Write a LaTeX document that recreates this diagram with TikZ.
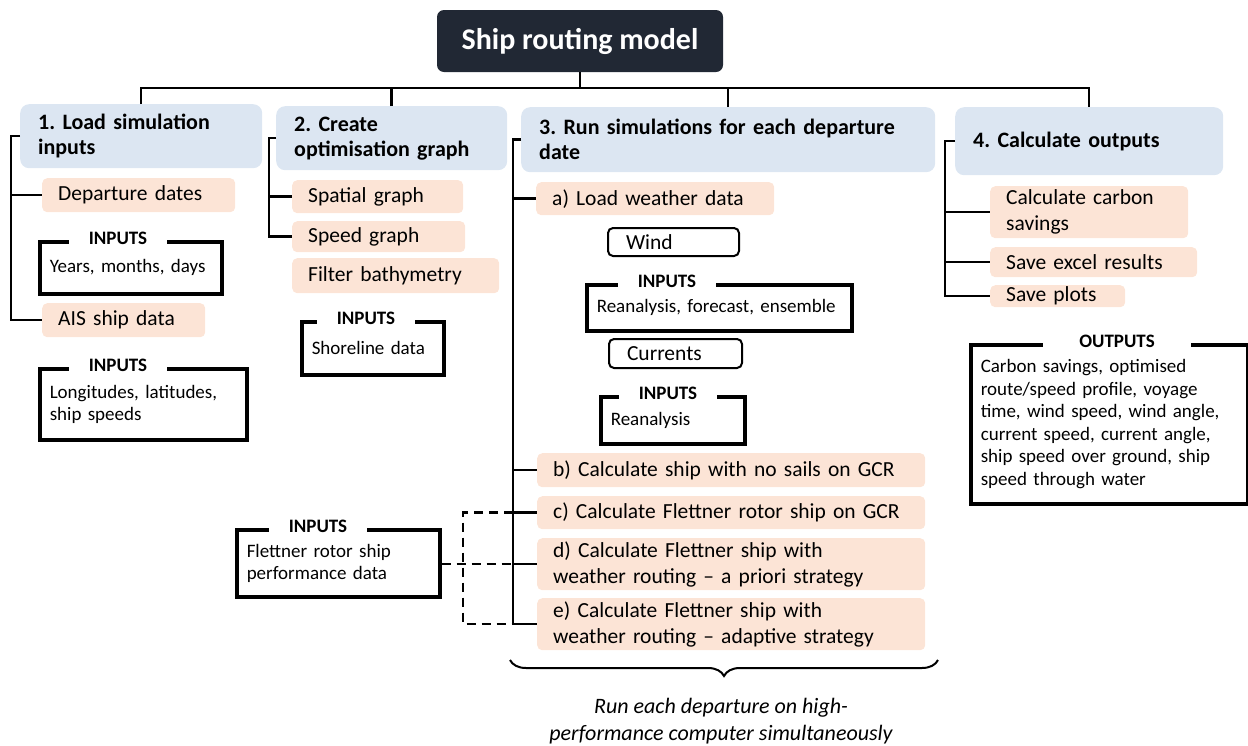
\documentclass[tikz,border=0pt]{standalone}
\usepackage{fontspec}
\setmainfont{Carlito}
\usetikzlibrary{decorations.pathreplacing}
\frenchspacing

\definecolor{headblue}{RGB}{220,230,242}
\definecolor{itemorange}{RGB}{252,228,214}
\definecolor{titlenavy}{RGB}{33,40,52}

\tikzset{
  conn/.style={line width=2.5pt},
  titlebox/.style={fill=titlenavy, text=white, rounded corners=7pt,
    font=\bfseries\fontsize{30}{34}\selectfont, minimum width=286pt, minimum height=62pt},
  head/.style={fill=headblue, rounded corners=9pt, anchor=north west, align=left,
    inner xsep=18pt, inner ysep=0pt, font=\bfseries\fontsize{22}{25}\selectfont},
  item/.style={fill=itemorange, rounded corners=5pt, anchor=north west, align=left,
    inner xsep=16pt, inner ysep=0pt, font=\fontsize{21.5}{26}\selectfont},
  layer/.style={draw, line width=2pt, rounded corners=5pt, anchor=north west, align=left,
    inner xsep=18pt, inner ysep=0pt, font=\fontsize{21.5}{26}\selectfont},
  inbox/.style={draw, line width=3.5pt, anchor=north west, align=left,
    inner xsep=10pt, inner ysep=0pt, font=\fontsize{19}{22.5}\selectfont},
  inlabel/.style={fill=white, inner xsep=20pt, inner ysep=1pt,
    font=\bfseries\fontsize{19}{22}\selectfont},
}

\begin{document}
\begin{tikzpicture}[x=1pt, y=-1pt]
\useasboundingbox (0,0) rectangle (1248,745);

% title and the four steps
\node[titlebox] (title) at (580,41) {Ship routing model};
\node[head, text width=206, minimum height=64] (load) at (20,104) {1. Load simulation\\inputs};
\node[head, text width=195, minimum height=64] (graph) at (276,106) {2. Create\\optimisation graph};
\node[head, text width=378, minimum height=65] (runsim) at (521,107) {3. Run simulations for each departure\\date};
\node[head, text width=232, minimum height=68] (outputs) at (955,107) {4. Calculate outputs};

% step 1
\node[item, text width=161, minimum height=34] (dep) at (42,178) {Departure dates};
\node[inbox, text width=162, minimum height=52] (in1) at (38,240) {Years, months, days};
\node[inlabel] (lab1) at (118,238) {INPUTS};
\node[item, text width=131, minimum height=34] (ais) at (42,303) {AIS ship data};
\node[inbox, text width=187, minimum height=71] (in2) at (38,367) {Longitudes, latitudes,\\ship speeds};
\node[inlabel] (lab2) at (118,365) {INPUTS};

% step 2
\node[item, text width=139, minimum height=33] (spatial) at (292,180) {Spatial graph};
\node[item, text width=141, minimum height=31] (speedg) at (292,221) {Speed graph};
\node[item, text width=175, minimum height=35] (filter) at (292,258) {Filter bathymetry};
\node[inbox, text width=122, minimum height=53] (in3) at (300,320) {Shoreline data};
\node[inlabel] (lab3) at (366,318) {INPUTS};

% step 3
\node[item, text width=206, minimum height=33] (runA) at (536,182) {a) Load weather data};
\node[layer, text width=95, minimum height=28] (wind) at (607,227) {Wind};
\node[inbox, text width=245, minimum height=46] (in4) at (585,283) {Reanalysis, forecast, ensemble};
\node[inlabel] (lab4) at (667,281) {INPUTS};
\node[layer, text width=97, minimum height=29] (currents) at (608,338) {Currents};
\node[inbox, text width=124, minimum height=47] (in5) at (599,395) {Reanalysis};
\node[inlabel] (lab5) at (668,393) {INPUTS};
\node[item, text width=356, minimum height=34] (runB) at (537,453) {b) Calculate ship with no sails on GCR};
\node[item, text width=356, minimum height=33] (runC) at (537,496) {c) Calculate Flettner rotor ship on GCR};
\node[item, text width=356, minimum height=52] (runD) at (537,538) {d) Calculate Flettner ship with\\weather routing -- a priori strategy};
\node[item, text width=356, minimum height=52] (runE) at (537,598) {e) Calculate Flettner ship with\\weather routing -- adaptive strategy};
\node[inbox, text width=183, minimum height=67] (flett) at (235,528) {Flettner rotor ship\\performance data};
\node[inlabel] (lab6) at (318,526) {INPUTS};

% step 4
\node[item, text width=166, minimum height=52] (carbon) at (990,186) {Calculate carbon\\savings};
\node[item, text width=175, minimum height=30] (excel) at (990,247) {Save excel results};
\node[item, text width=103, minimum height=22] (plots) at (990,285) {Save plots};
\node[inbox, text width=257, minimum height=159] (outbox) at (969,343) {Carbon savings, optimised\\route/speed profile, voyage\\time, wind speed, wind angle,\\current speed, current angle,\\ship speed over ground, ship\\speed through water};
\node[inlabel, inner xsep=36pt] (lab7) at (1117,341) {OUTPUTS};

% tree lines
\coordinate (bus) at (0,88);
\coordinate (c1) at (11,0);
\coordinate (c2) at (269,0);
\coordinate (c3) at (513,0);
\coordinate (c4) at (945,0);
\coordinate (c5) at (463,0);
\draw[conn] (load.north) |- (outputs.north |- bus) -- (outputs.north);
\draw[conn] (title.south) -- (title.south |- bus);
\draw[conn] (graph.north) -- (graph.north |- bus);
\draw[conn] (runsim.north) -- (runsim.north |- bus);

\draw[conn] (load.west) -- (load.west -| c1) |- (ais.west);
\draw[conn] (dep.west -| c1) -- (dep.west);
\draw[conn] (graph.west) -- (graph.west -| c2) |- (speedg.west);
\draw[conn] (spatial.west -| c2) -- (spatial.west);

% dashed links to the rotor data
\draw[conn, dashed, dash pattern=on 9pt off 6pt] (runC.west -| c3) -- (runC.west -| c5) -- (runE.west -| c5) -- (runE.west -| c3);
\draw[conn, dashed, dash pattern=on 9pt off 6pt] (flett.east |- runD.west) -- (runD.west -| c3);

\draw[conn] (runsim.west) -- (runsim.west -| c3) |- (runE.west);
\foreach \n in {runA, runB, runC, runD}
  \draw[conn] (\n.west -| c3) -- (\n.west);
\draw[conn] (outputs.west) -- (outputs.west -| c4) |- (plots.west);
\foreach \n in {carbon, excel}
  \draw[conn] (\n.west -| c4) -- (\n.west);

% brace and note
\coordinate (bl) at (510,660);
\coordinate (br) at (938,660);
\draw[line width=2pt, decorate, decoration={brace, mirror, amplitude=16pt}] (bl) -- (br);
\node[align=center, font=\itshape\fontsize{22}{27}\selectfont] (note) at (721,721) {Run each departure on high-\\performance computer simultaneously};
\end{tikzpicture}
\end{document}
